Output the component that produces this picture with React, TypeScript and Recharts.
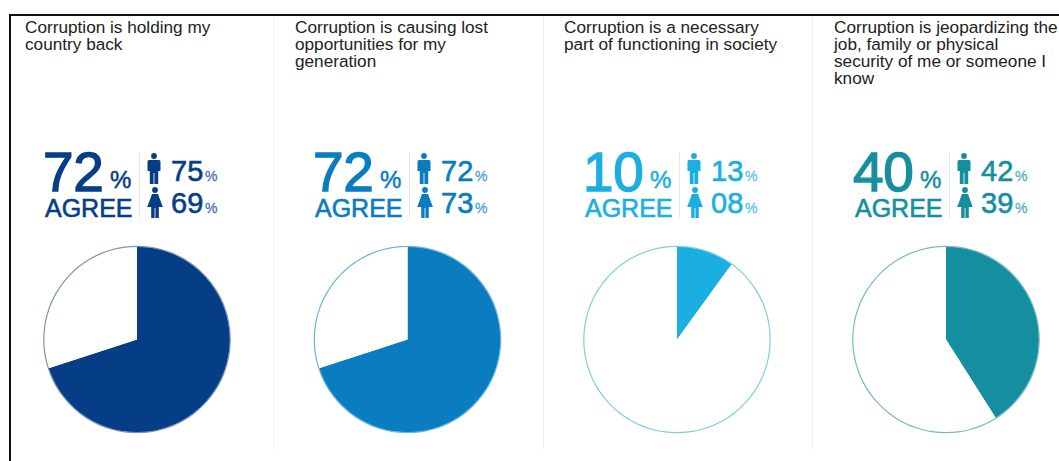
import React from 'react';
import { PieChart, Pie, Cell } from 'recharts';

const titles = [
  ['Corruption is holding my', 'country back'],
  ['Corruption is causing lost', 'opportunities for my', 'generation'],
  ['Corruption is a necessary', 'part of functioning in society'],
  ['Corruption is jeopardizing the', 'job, family or physical', 'security of me or someone I', 'know'],
];
const agreeLabels = ['72', '72', '10', '40'];
const maleLabels = ['75', '72', '13', '42'];
const femaleLabels = ['69', '73', '08', '39'];
const agreeShares = [70, 70, 10, 41];
const restShares = [30, 30, 90, 59];
const colors = ['#053e87', '#0a7dc1', '#1aafe0', '#158f9f'];
const outlines = ['#7f93b3', '#6db6d6', '#82cde2', '#79b9c2'];

const textLeft = [25, 295, 564, 834];
const statLeft = [45, 315, 585, 855];
const pieCx = [137, 407.5, 677, 946];
const dividers = [273, 543, 812];

const FONT = '"Liberation Sans", Arial, sans-serif';

const abs = (left: number, top: number, extra: React.CSSProperties = {}): React.CSSProperties => ({
  position: 'absolute',
  left,
  top,
  whiteSpace: 'nowrap',
  ...extra,
});

const Male = ({ left, top, color }: { left: number; top: number; color: string }) => (
  <svg style={abs(left, top)} width="14" height="31" viewBox="0 0 14 31">
    <circle cx="7" cy="3" r="2.9" fill={color} />
    <path d="M2 7 H12 Q13.5 7 13.5 9 V18 H11.2 V31 H7.4 V20 H6.6 V31 H2.8 V18 H0.5 V9 Q0.5 7 2 7 Z" fill={color} />
  </svg>
);

const Female = ({ left, top, color }: { left: number; top: number; color: string }) => (
  <svg style={abs(left, top)} width="16" height="31" viewBox="0 0 16 31">
    <circle cx="8" cy="3" r="2.9" fill={color} />
    <path d="M5 7 H11 L15.8 20 H11.8 V31 H8.4 V21 H7.6 V31 H4.2 V20 H0.2 Z" fill={color} />
  </svg>
);

const Panel = ({ i }: { i: number }) => {
  const c = colors[i];
  const x = statLeft[i];
  return (
    <>
      <div style={abs(textLeft[i], 18.5, { fontSize: 17.2, lineHeight: '17.3px', color: '#222' })}>
        {titles[i].map((line) => (
          <div key={line}>{line}</div>
        ))}
      </div>
      <div style={abs(x - 2, 150, { fontSize: 55, lineHeight: '44px', color: c, letterSpacing: -0.3, WebkitTextStroke: `1.3px ${c}` })}>{agreeLabels[i]}</div>
      <div style={abs(x + 65, 167, { fontSize: 24, lineHeight: '26px', color: c, WebkitTextStroke: `0.5px ${c}` })}>%</div>
      <div style={abs(x, 197, { fontSize: 25, lineHeight: '22px', color: c, WebkitTextStroke: `0.6px ${c}` })}>AGREE</div>
      <div style={{ position: 'absolute', left: x + 94, top: 152, width: 1, height: 66, background: '#e4e8ee' }} />
      <Male left={x + 102} top={153} color={c} />
      <Female left={x + 102} top={187} color={c} />
      <div style={abs(x + 126, 157, { fontSize: 29, lineHeight: '28px', color: c, WebkitTextStroke: `0.6px ${c}` })}>{maleLabels[i]}</div>
      <div style={abs(x + 126, 189, { fontSize: 29, lineHeight: '28px', color: c, WebkitTextStroke: `0.6px ${c}` })}>{femaleLabels[i]}</div>
      <div style={abs(x + 160, 168, { fontSize: 14, lineHeight: '16px', color: c, opacity: 0.75, WebkitTextStroke: `0.3px ${c}` })}>%</div>
      <div style={abs(x + 160, 200, { fontSize: 14, lineHeight: '16px', color: c, opacity: 0.75, WebkitTextStroke: `0.3px ${c}` })}>%</div>
    </>
  );
};

export default function App() {
  return (
    <div style={{ position: 'absolute', left: 0, top: 0, width: 1059, height: 461, overflow: 'hidden', background: '#fff', fontFamily: FONT }}>
      <div style={{ position: 'absolute', left: 9, top: 14, width: 1050, height: 2, background: '#111' }} />
      <div style={{ position: 'absolute', left: 9, top: 14, width: 2, height: 447, background: '#111' }} />
      {dividers.map((d) => (
        <div key={d} style={{ position: 'absolute', left: d, top: 16, width: 1, height: 434, background: '#f0f1f3' }} />
      ))}
      <div style={{ position: 'absolute', left: 0, top: 0 }}>
        <PieChart width={1059} height={461} margin={{ top: 0, right: 0, bottom: 0, left: 0 }}>
          {colors.map((c, i) => (
            <Pie
              key={c}
              data={[
                { name: 'Agree', value: agreeShares[i] },
                { name: 'Other', value: restShares[i] },
              ]}
              dataKey="value"
              cx={pieCx[i]}
              cy={339.5}
              innerRadius={0}
              outerRadius={93}
              startAngle={90}
              endAngle={-270}
              stroke="none"
              isAnimationActive={false}
            >
              <Cell fill={c} />
              <Cell fill="#ffffff" />
            </Pie>
          ))}
          {outlines.map((c, i) => (
            <Pie
              key={c}
              data={[{ name: 'Outline', value: 100 }]}
              dataKey="value"
              cx={pieCx[i]}
              cy={339.5}
              innerRadius={92.6}
              outerRadius={93.8}
              startAngle={90}
              endAngle={-270}
              stroke="none"
              fill={c}
              isAnimationActive={false}
            />
          ))}
        </PieChart>
      </div>
      {colors.map((c, i) => (
        <Panel key={c} i={i} />
      ))}
    </div>
  );
}
